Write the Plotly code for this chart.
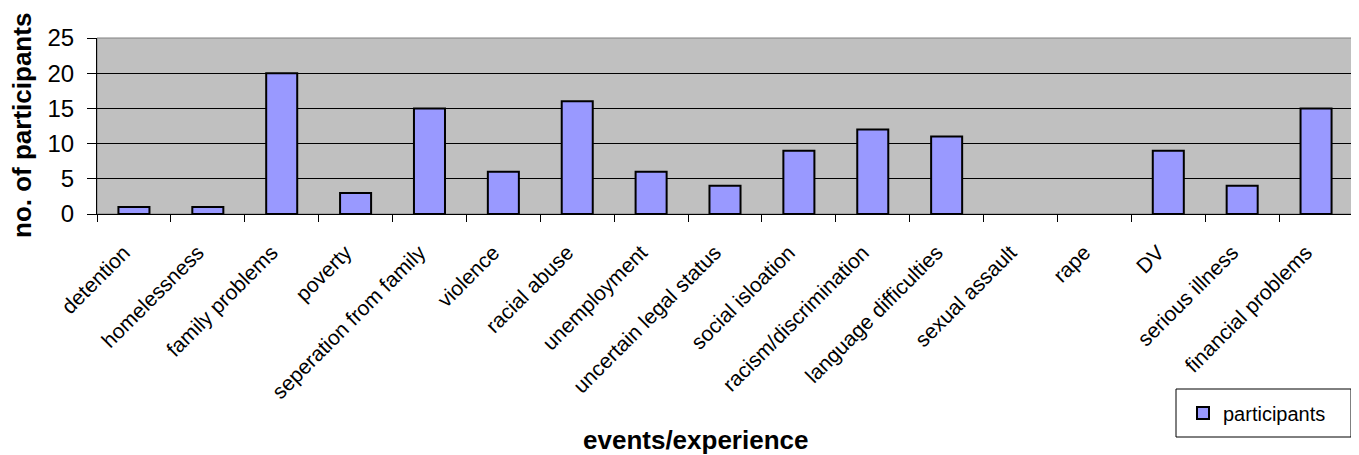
import plotly.graph_objects as go

categories = ["detention", "homelessness", "family problems", "poverty",
              "seperation from family", "violence", "racial abuse", "unemployment",
              "uncertain legal status", "social isloation", "racism/discrimination",
              "language difficulties", "sexual assault", "rape", "DV",
              "serious illness", "financial problems"]
participants = [1, 1, 20, 3, 15, 6, 16, 6, 4, 9, 12, 11, 0, 0, 9, 4, 15]
y_ticks = [0, 5, 10, 15, 20, 25]

FONT = "Liberation Sans, Arial, sans-serif"
OFF = 8  # page body margin
W, H = 1359 - OFF, 455 - OFF
L, T = 97 - OFF, 38 - OFF
R = W - (1353 - OFF)
B = H - (214 - OFF)
PW, PH = W - L - R, H - T - B


def px(v):
    return (v - OFF - L) / PW


def py(v):
    return ((T + PH) - (v - OFF)) / PH


outline = [0 if v == 0 else 2 for v in participants]

fig = go.Figure()
fig.add_trace(go.Bar(
    x=categories, y=participants, name="participants",
    marker=dict(color="#9999FF", line=dict(color="black", width=outline)),
    width=0.42,
))

fig.update_layout(
    width=W, height=H,
    margin=dict(l=L, r=R, t=T, b=B, autoexpand=False),
    paper_bgcolor="white",
    plot_bgcolor="#C0C0C0",
    font=dict(family=FONT, size=20, color="black"),
    showlegend=True,
    legend=dict(
        xref="container", yref="container",
        x=(1183 - OFF) / W, y=1 - (413 - OFF) / H, xanchor="left", yanchor="middle",
        borderwidth=0, bgcolor="rgba(0,0,0,0)",
        font=dict(size=20, family=FONT),
    ),
)
fig.update_xaxes(
    type="category", tickangle=-45, tickson="boundaries",
    ticks="outside", ticklen=7, tickcolor="black",
    showline=True, linecolor="black", linewidth=1,
    showgrid=False, tickfont=dict(size=21, family=FONT),
    ticklabelstandoff=17, ticklabelshift=-10, automargin=False,
)
fig.update_yaxes(
    range=[0, 25], tickvals=y_ticks, ticks="outside", ticklen=9, tickcolor="black",
    showline=True, linecolor="black", linewidth=1,
    showgrid=True, gridcolor="black", gridwidth=1,
    tickfont=dict(size=24, family=FONT), zeroline=False,
    ticklabelstandoff=8, automargin=False,
)
# plot frame
fig.add_shape(type="rect", xref="paper", yref="paper", x0=0, x1=1, y0=0, y1=1,
              line=dict(color="#808080", width=1), layer="below")
# legend box
fig.add_shape(type="rect", xref="paper", yref="paper",
              x0=px(1176), x1=px(1351), y0=py(437), y1=py(389),
              line=dict(color="black", width=1))

fig.add_annotation(text="<b>no. of participants</b>", xref="paper", yref="paper",
                   x=px(22), y=0.5, xanchor="center", yanchor="middle",
                   textangle=-90, showarrow=False, font=dict(size=26, family=FONT))
fig.add_annotation(text="<b>events/experience</b>", xref="paper", yref="paper",
                   x=px(695), y=py(440), xanchor="center", yanchor="middle",
                   showarrow=False, font=dict(size=26, family=FONT))

fig.write_html("out.html")
